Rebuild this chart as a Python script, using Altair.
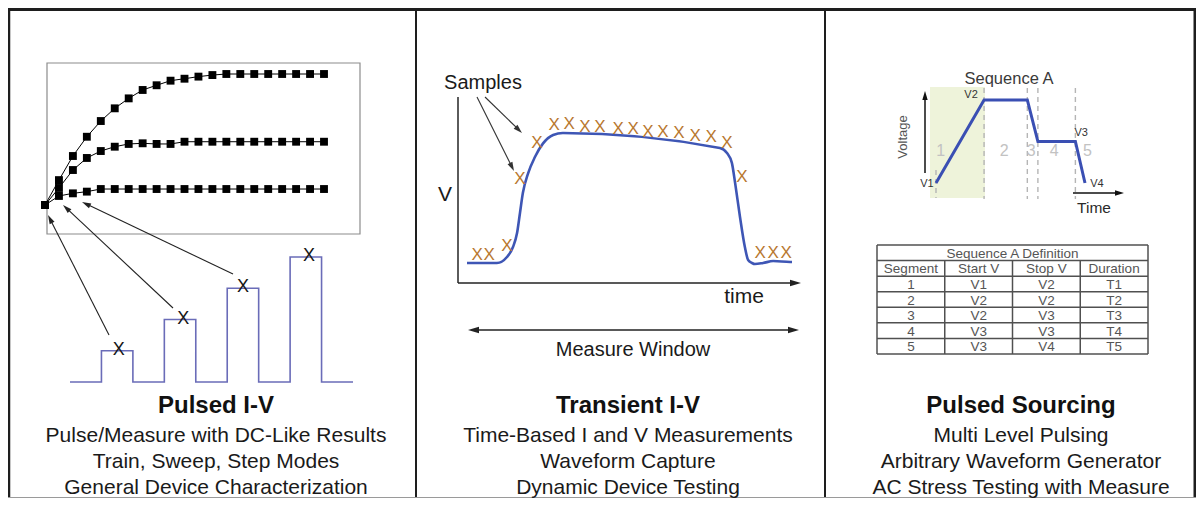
import math
import altair as alt
import pandas as pd

# ------------------------------------------------------------------ data
# Pulsed I-V : measured current for each pulse step, three sweep levels
IV_STEP = list(range(21))
IV_HIGH = [0, 1.9, 3.74, 5.21, 6.41, 7.38, 8.14, 8.78, 9.14, 9.49, 9.64, 9.8, 9.92,
           10, 10, 10, 10, 10, 10, 10, 10]
IV_MID = [0, 1.3, 2.67, 3.59, 4.12, 4.45, 4.66, 4.71, 4.66, 4.66, 4.83, 4.83, 4.83,
          4.83, 4.83, 4.83, 4.83, 4.83, 4.83, 4.83, 4.83]
IV_LOW = [0, 0.69, 0.89, 1.02, 1.22, 1.22, 1.22, 1.22, 1.22, 1.22, 1.22, 1.22, 1.22,
          1.22, 1.22, 1.22, 1.22, 1.22, 1.22, 1.22, 1.22]
# pulse train (time units, volts)
PULSE_TIME = [0, 1, 2, 3, 4, 5, 6, 7, 8, 9]
PULSE_LEVEL = [0, 1, 0, 2, 0, 3, 0, 4, 0, 0]
PULSE_SAMPLE_TIME = [1.55, 3.6, 5.5, 7.6]
PULSE_SAMPLE_LEVEL = [1, 2, 3, 4]

# Transient I-V : waveform (percent of window, normalised volts)
WAVE_TIME = [0, 9.2, 12.3, 14.15, 15.4, 16.3, 17.2, 18.8, 20.9, 23.4, 26.5, 29.5,
             77.8, 80.0, 81.5, 82.5, 84.0, 85.5, 86.5, 87.7, 88.6, 91.1, 94.2, 99.4, 100]
WAVE_V = [0, 0, 0.046, 0.123, 0.23, 0.385, 0.54, 0.69, 0.815, 0.92, 0.985, 1.0,
          0.885, 0.846, 0.77, 0.615, 0.354, 0.123, 0.023, 0.0, -0.008, 0.0, 0.015, 0.008, 0.008]
SAMPLE_TIME = [3.1, 6.8, 12.3, 16.3, 21.5, 26.8, 31.4, 36.3, 40.9, 46.5, 51.1, 55.7,
               60.3, 65.2, 70.2, 75.1, 80.0, 84.6, 90.2, 94.2, 98.2]
SAMPLE_V = [0.06, 0.06, 0.13, 0.65, 0.92, 1.06, 1.07, 1.05, 1.05, 1.03, 1.03, 1.01,
            1.01, 1.0, 0.98, 0.97, 0.92, 0.66, 0.08, 0.08, 0.08]

# Pulsed Sourcing : sequence A
SEQ_TIME = [0, 1, 1.9, 2.12, 2.9, 3.1]
SEQ_V = [0, 2, 2, 1, 1, 0]
SEQ_BOUNDARY = [1, 1.9, 2.12, 2.9]
SEG_NUMBER = ["1", "2", "3", "4", "5"]
SEG_NUMBER_TIME = [0.1, 1.42, 1.98, 2.46, 3.15]
LEVEL_NAME = ["V1", "V2", "V3", "V4"]
LEVEL_LABEL_TIME = [-0.19, 0.73, 3.02, 3.35]
LEVEL_LABEL_V = [-0.02, 2.12, 1.2, -0.02]

TABLE_TITLE = "Sequence A Definition"
TABLE_HEADER = ["Segment", "Start V", "Stop V", "Duration"]
TABLE_ROWS = [["1", "V1", "V2", "T1"],
              ["2", "V2", "V2", "T2"],
              ["3", "V2", "V3", "T3"],
              ["4", "V3", "V3", "T4"],
              ["5", "V3", "V4", "T5"]]

TITLES = ["Pulsed I-V", "Transient I-V", "Pulsed Sourcing"]
CAPTIONS = [["Pulse/Measure with DC-Like Results", "Train, Sweep, Step Modes",
             "General Device Characterization"],
            ["Time-Based I and V Measurements", "Waveform Capture",
             "Dynamic Device Testing"],
            ["Multi Level Pulsing", "Arbitrary Waveform Generator",
             "AC Stress Testing with Measure"]]

# ------------------------------------------------------------------ helpers
FONT = "Liberation Sans"
OFF = 8
PULSE_BLUE = "#6a6cb8"
WAVE_BLUE = "#3e56b5"
SEQ_BLUE = "#3a4fb3"
ORANGE = "#b8782f"
INK = "#1e1e1e"


def cx(v):
    return v - OFF


def lin(d0, d1, r0, r1):
    return alt.Scale(domain=[d0, d1], range=[cx(r0), cx(r1)], nice=False, zero=False)


ONE = pd.DataFrame({"k": [0]})


def rule(x1, y1, x2, y2, color=INK, width=1.0, dash=None):
    kw = dict(color=color, strokeWidth=width, opacity=1)
    if dash is not None:
        kw["strokeDash"] = dash
    return alt.Chart(ONE).mark_rule(**kw).encode(
        x=alt.value(cx(x1)), y=alt.value(cx(y1)),
        x2=alt.value(cx(x2)), y2=alt.value(cx(y2)))


HEAD = "M0,-1L0.6,1L-0.6,1Z"


def head(tx, ty, ux, uy, color, L):
    ang = math.degrees(math.atan2(ux, -uy)) % 360
    return alt.Chart(ONE).mark_point(
        shape=HEAD, filled=True, size=L * L, angle=ang, color=color, opacity=1
    ).encode(x=alt.value(cx(tx - ux * L / 2)), y=alt.value(cx(ty - uy * L / 2)))


def arrow(x1, y1, x2, y2, color=INK, width=1.0, L=9, both=False):
    dx, dy = x2 - x1, y2 - y1
    n = math.hypot(dx, dy)
    ux, uy = dx / n, dy / n
    sx, sy = x1, y1
    if both:
        sx, sy = x1 + ux * L * 0.8, y1 + uy * L * 0.8
    out = [rule(sx, sy, x2 - ux * L * 0.8, y2 - uy * L * 0.8, color, width),
           head(x2, y2, ux, uy, color, L)]
    if both:
        out.append(head(x1, y1, -ux, -uy, color, L))
    return out


def label(s, x, y, size, color="#111111", weight="normal", align="center",
          baseline="middle", angle=0):
    kw = dict(text=s, font=FONT, fontSize=size, color=color, fontWeight=weight,
              align=align, baseline=baseline)
    if angle:
        kw["angle"] = angle
    return alt.Chart(ONE).mark_text(**kw).encode(x=alt.value(cx(x)), y=alt.value(cx(y)))


layers = []

# ------------------------------------------------------------------ panel 1
layers.append(alt.Chart(ONE).mark_rect(fill="white", fillOpacity=0, stroke="#8c8c8c",
                                       strokeWidth=1.2).encode(
    x=alt.value(cx(47)), x2=alt.value(cx(360)), y=alt.value(cx(63)), y2=alt.value(cx(234))))

iv_df = pd.DataFrame({"step": IV_STEP * 3,
                      "current": IV_HIGH + IV_MID + IV_LOW,
                      "curve": ["high"] * 21 + ["mid"] * 21 + ["low"] * 21})
iv_x = alt.X("step:Q", scale=lin(0, 20, 45, 324), axis=None)
iv_y = alt.Y("current:Q", scale=lin(0, 10, 205, 74), axis=None)
layers.append(alt.Chart(iv_df).mark_line(color="black", strokeWidth=1).encode(
    x=iv_x, y=iv_y, detail="curve:N"))
layers.append(alt.Chart(iv_df).mark_square(color="black", size=62, opacity=1).encode(
    x=iv_x, y=iv_y))

pulse_df = pd.DataFrame({"t": PULSE_TIME, "v": PULSE_LEVEL})
p_xs = lin(0, 9, 70, 353)
p_ys = lin(0, 4, 382, 257)
layers.append(alt.Chart(pulse_df).mark_line(interpolate="step-after", color=PULSE_BLUE,
                                            strokeWidth=1.6).encode(
    x=alt.X("t:Q", scale=p_xs, axis=None), y=alt.Y("v:Q", scale=p_ys, axis=None)))
psamp_df = pd.DataFrame({"t": PULSE_SAMPLE_TIME, "v": PULSE_SAMPLE_LEVEL})
layers.append(alt.Chart(psamp_df).mark_text(text="X", font=FONT, fontSize=18,
                                            color="#161616", baseline="middle", dy=-1).encode(
    x=alt.X("t:Q", scale=p_xs, axis=None), y=alt.Y("v:Q", scale=p_ys, axis=None)))

layers += arrow(109, 335, 48, 215, "#222222", 1.1)
layers += arrow(173, 308, 63, 205, "#222222", 1.1)
layers += arrow(233, 274, 82, 202, "#222222", 1.1)

# ------------------------------------------------------------------ panel 2
layers.append(rule(458, 97, 458, 283, "#333333", 1.6))
layers += arrow(458, 283, 801, 283, "#222222", 1.6, L=11)
layers += arrow(468, 330, 799, 330, "#222222", 1.6, L=11, both=True)

wave_df = pd.DataFrame({"t": WAVE_TIME, "v": WAVE_V})
w_xs = lin(0, 100, 467, 792)
w_ys = lin(0, 1, 263, 133)
layers.append(alt.Chart(wave_df).mark_line(interpolate="monotone", color=WAVE_BLUE,
                                           strokeWidth=2.6).encode(
    x=alt.X("t:Q", scale=w_xs, axis=None), y=alt.Y("v:Q", scale=w_ys, axis=None)))
samp_df = pd.DataFrame({"t": SAMPLE_TIME, "v": SAMPLE_V})
layers.append(alt.Chart(samp_df).mark_text(text="X", font=FONT, fontSize=17, color=ORANGE,
                                           baseline="middle").encode(
    x=alt.X("t:Q", scale=w_xs, axis=None), y=alt.Y("v:Q", scale=w_ys, axis=None)))

layers.append(label("Samples", 483, 89, 20, "#1a1a1a", baseline="alphabetic"))
layers += arrow(477, 97, 514, 171, "#333333", 1.1)
layers += arrow(485, 97, 522, 133, "#333333", 1.1)
layers.append(label("V", 445, 201, 21, "#1a1a1a", baseline="alphabetic"))
layers.append(label("time", 744, 303, 21, "#1a1a1a", baseline="alphabetic"))
layers.append(label("Measure Window", 633, 356, 20, "#1a1a1a", baseline="alphabetic"))

# ------------------------------------------------------------------ panel 3
layers.append(alt.Chart(ONE).mark_rect(color="#eef3da", opacity=1).encode(
    x=alt.value(cx(930)), x2=alt.value(cx(985)), y=alt.value(cx(87)), y2=alt.value(cx(198))))
s_xs = lin(0, 3.1, 936, 1085)
s_ys = lin(0, 2, 183, 100)
layers.append(rule(936, 170, 936, 198, "#b5b5b5", 1.4, dash=[5, 4]))
bound_df = pd.DataFrame({"t": SEQ_BOUNDARY})
layers.append(alt.Chart(bound_df).mark_rule(color="#b5b5b5", strokeWidth=1.4,
                                            strokeDash=[5, 4]).encode(
    x=alt.X("t:Q", scale=s_xs, axis=None), y=alt.value(cx(88)), y2=alt.value(cx(199))))
seq_df = pd.DataFrame({"t": SEQ_TIME, "v": SEQ_V})
layers.append(alt.Chart(seq_df).mark_line(color=SEQ_BLUE, strokeWidth=3).encode(
    x=alt.X("t:Q", scale=s_xs, axis=None), y=alt.Y("v:Q", scale=s_ys, axis=None)))
segnum_df = pd.DataFrame({"t": SEG_NUMBER_TIME, "v": [0.77] * 5, "s": SEG_NUMBER})
layers.append(alt.Chart(segnum_df).mark_text(font=FONT, fontSize=16, color="#c2c2c2",
                                             baseline="middle").encode(
    x=alt.X("t:Q", scale=s_xs, axis=None), y=alt.Y("v:Q", scale=s_ys, axis=None),
    text="s:N"))
lvl_df = pd.DataFrame({"t": LEVEL_LABEL_TIME, "v": LEVEL_LABEL_V, "s": LEVEL_NAME})
layers.append(alt.Chart(lvl_df).mark_text(font=FONT, fontSize=11, color="#333333",
                                          baseline="middle").encode(
    x=alt.X("t:Q", scale=s_xs, axis=None), y=alt.Y("v:Q", scale=s_ys, axis=None),
    text="s:N"))
layers += arrow(925, 173, 925, 91, "#111111", 1.5, L=9)
layers += arrow(1073, 193, 1124, 193, "#111111", 1.5, L=9)
layers.append(label("Sequence A", 1009, 84, 16.5, "#3a3a3a", baseline="alphabetic"))
layers.append(label("Time", 1094, 213, 15.5, "#2a2a2a", baseline="alphabetic"))
layers.append(label("Voltage", 903, 137, 13, "#555555", angle=270))

# table
t_xs = lin(0, 4, 877, 1148)
t_ys = lin(0, 7, 245, 354)
grid = []
for r in range(8):
    grid.append({"x1": 0, "x2": 4, "y1": r, "y2": r})
grid.append({"x1": 0, "x2": 0, "y1": 0, "y2": 7})
grid.append({"x1": 4, "x2": 4, "y1": 0, "y2": 7})
for c in (1, 2, 3):
    grid.append({"x1": c, "x2": c, "y1": 1, "y2": 7})
grid_df = pd.DataFrame(grid)
layers.append(alt.Chart(grid_df).mark_rule(color="#505050", strokeWidth=1.5).encode(
    x=alt.X("x1:Q", scale=t_xs, axis=None), x2="x2:Q",
    y=alt.Y("y1:Q", scale=t_ys, axis=None), y2="y2:Q"))
cells = [{"c": 2.0, "r": 0.5, "s": TABLE_TITLE}]
for j, h in enumerate(TABLE_HEADER):
    cells.append({"c": j + 0.5, "r": 1.5, "s": h})
for i, row in enumerate(TABLE_ROWS):
    for j, v in enumerate(row):
        cells.append({"c": j + 0.5, "r": i + 2.5, "s": v})
cell_df = pd.DataFrame(cells)
layers.append(alt.Chart(cell_df).mark_text(font=FONT, fontSize=13.5, color="#555555",
                                           baseline="middle", dy=1).encode(
    x=alt.X("c:Q", scale=t_xs, axis=None), y=alt.Y("r:Q", scale=t_ys, axis=None),
    text="s:N"))

# ------------------------------------------------------------------ frame & captions
layers.append(rule(7, 9.5, 1196, 9.5, INK, 3))
layers.append(rule(9, 8, 9, 498, INK, 2.5))
layers.append(rule(1195, 8, 1195, 498, INK, 3))
layers.append(rule(416, 8, 416, 498, INK, 2))
layers.append(rule(825, 8, 825, 498, INK, 2))
layers.append(rule(8, 497.5, 1196, 497.5, "#9a9a9a", 1))

CENTERS = [216, 628, 1021]
for k in range(3):
    layers.append(label(TITLES[k], CENTERS[k], 413, 24, "#111111", weight="bold",
                        baseline="alphabetic"))
    for i, line in enumerate(CAPTIONS[k]):
        layers.append(label(line, CENTERS[k], [442, 468, 494][i], 21, "#1a1a1a",
                            baseline="alphabetic"))

chart = alt.layer(*layers).resolve_scale(x="independent", y="independent").properties(
    width=1188, height=490, autosize=alt.AutoSizeParams(type="none"), padding=0
).configure_view(stroke=None)

chart.save("out.html", embed_options={"renderer": "svg", "actions": False})
